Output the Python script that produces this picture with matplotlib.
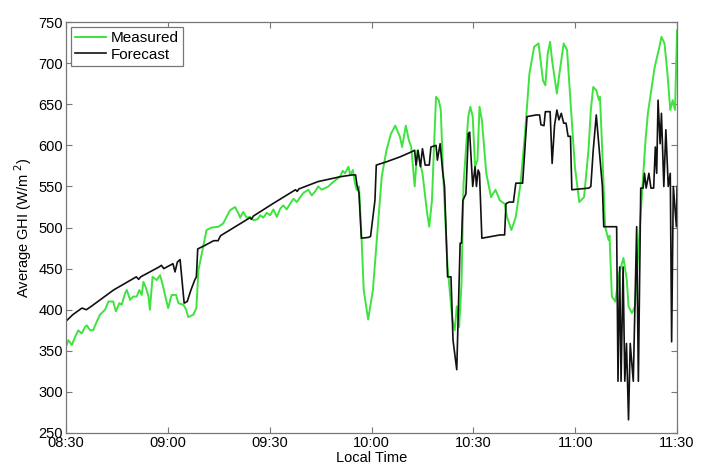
import numpy as np
import matplotlib
matplotlib.use("Agg")
import matplotlib.pyplot as plt

# minutes after 08:30 and GHI values
MEAS_T = [0, 0.7, 1.7, 2.7, 3.6, 4.6, 5.6, 6.1, 7.1, 8.0, 9.0, 10, 11.5, 12.5, 13.9, 14.7,
          15.7, 16.4, 17.4, 17.9, 18.9, 19.8, 20.8, 21.6, 22.3, 22.8, 23.6, 24.3, 24.7, 25.5,
          26.7, 27.7, 28.5, 29.5, 30.1, 31.1, 32.4, 33.1, 34.6, 35.4, 36, 37.5, 38.4,
          39, 41.4, 42.9, 44.9, 46.3, 48.3, 49.8, 50.8, 51.3, 52.2, 53.2, 54.2, 55.2, 56.4,
          57.2, 58.1, 59.1, 60.1, 61.1, 62.1, 63.1, 64, 65, 66, 67, 68, 69, 69.9, 71.4, 72.4,
          73.4, 74.3, 75.3, 76.3, 77.3, 78.3, 79.8, 80.7, 81.5, 82.2, 83.2, 83.7, 84.5, 85.1,
          85.6, 86.3,
          87, 87.7, 89, 90.4, 91.7, 93, 94.4, 95.7, 97, 98.4, 99, 100.1, 101, 101.7, 102.7,
          103.5, 105, 106.4, 107, 107.8, 108.4, 109, 109.8, 110.4, 111, 112.4, 113.8, 114.5,
          115.1, 115.8, 116.5, 117.1, 118.5, 119.1, 119.8, 120.5, 121.2, 121.8, 122.5, 123.8,
          125.2, 126.5, 127.8, 129.2, 129.9, 131.2, 132.5, 133.9, 135.2, 136.5, 137.9, 139.2,
          140.5, 141.2, 141.9, 142.6, 143.2, 144.6, 145.2, 146.6, 147.6, 148.6, 149.9, 151.2,
          152.6, 153.9, 154.6, 155.3, 156.2, 157, 157.3, 158, 158.8, 159.8, 160.1, 160.8,
          161.8, 163, 164.2, 165.2, 165.7, 166.7, 167.6, 169.1, 170.7, 171.4, 173.4, 174.7,
          175.4, 176.3, 177.1, 178, 178.7, 179.4, 180]
MEAS_V = [355, 363, 357, 367, 375, 371, 379, 381, 375, 375, 385, 394, 400, 410, 410, 398,
          408, 406, 420, 424, 412, 416, 416, 424, 418, 434, 426, 416, 400, 440,
          436, 442, 430, 412, 402, 418, 418, 408, 406, 400, 391, 394, 402,
          448, 497, 500, 501, 505, 521, 525, 517, 512, 519, 512, 513, 509, 510,
          515, 512, 518, 515, 522, 513, 523, 527, 522, 529, 535, 531, 537, 542, 546, 539,
          544, 550, 546, 548, 550, 554, 559, 562, 569, 566, 574, 564, 570, 554,
          546, 550,
          493, 424, 388, 424, 493, 562, 594, 614, 624, 610, 598, 624, 606, 598, 550,
          594, 566, 517, 501, 533, 598, 659, 655, 643, 574, 452, 388, 375,
          404, 379, 432, 554, 635, 647, 635, 574, 582, 647, 631, 566,
          537, 546, 533, 529, 513, 497, 513, 554, 614, 687, 720, 724,
          679, 673, 712, 726, 703, 663, 683, 724, 716, 655, 574, 531,
          537, 594, 643, 671, 667, 655, 659, 590, 501, 485, 490, 416,
          410, 445, 463, 436, 404, 396, 404, 505, 606, 639, 695, 718,
          732, 724, 691, 643, 655, 643, 740]

FCST_T = [0, 2, 4.7, 6, 7.4, 14, 20.7, 21.4, 22, 27.4, 28.1, 28.8, 31.5, 32.1, 32.8, 33.6,
          34.8, 35.7, 36.8, 37.9, 38.4, 38.8, 40.8, 43.5, 44.8, 45.5, 54.2, 54.6, 55.2, 60.9,
          67.6, 68.1, 68.6, 74.3, 81, 84.3, 85.3, 85.7, 86.3, 87, 89, 89.7, 90.4, 91, 91.4,
          94.4, 98.4, 101.7, 102.7,
          103.1, 103.7, 104.4, 105, 105.8, 107, 107.5, 109, 109.4, 110.2, 111, 111.5, 112.4,
          113.4, 114, 115.1, 115.8, 116.1, 116.5, 116.9, 117.8, 118.5, 118.9, 119.6, 119.8,
          120.5, 120.9, 121.4, 121.8, 122.5, 125.2, 127.8, 129.2, 129.6, 130.5, 131.8, 132.5,
          134.5, 135.8, 138.5, 139.5, 139.9, 140.8, 141.2, 142.6, 143.2, 143.9, 144.6, 145.2,
          145.9, 146.6, 147.3, 147.9, 148.6, 149, 154, 154.6, 155.3, 156.2, 157, 158, 158.4,
          161.3, 162.2, 162.6, 163.1, 163.5, 164.1, 164.6, 165.1, 165.7, 166.2, 167.1, 168.1,
          168.6, 169.3, 170, 170.4, 170.9, 171.7, 172.3, 173.1, 173.6, 174, 174.4, 175, 175.4,
          176.1, 176.7, 177.4, 178, 178.4, 178.9, 179.8, 180]
FCST_V = [386, 394, 402, 400, 404, 424, 440, 437, 440, 452, 454, 450, 456, 446, 458, 461,
          408, 410, 424, 436, 440, 474, 478, 484, 484, 490, 512, 510, 514, 529,
          546, 544, 547, 556, 562, 564, 564, 552, 542, 487, 488, 489, 513, 533, 576,
          580, 586, 592, 594,
          576, 594, 574, 596, 576, 576, 598, 600, 582, 602, 566, 550, 440,
          440, 363, 327, 436, 481, 481, 533, 541, 614, 616, 566, 550,
          574, 550, 570, 566, 487, 489, 491, 491, 529, 531, 531, 554,
          554, 635, 637, 637, 625, 624, 641, 641, 578, 624, 643, 631,
          639, 627, 627, 611, 611, 546, 548, 550, 594, 637, 598, 550, 501,
          501, 501, 313, 452, 313, 452, 313, 359, 266, 359, 313, 501,
          313, 548, 548, 566, 548, 566, 548, 548, 598, 566, 655, 602, 639,
          550, 619, 550, 566, 361, 550, 501, 550]

X_TICKS = [0, 30, 60, 90, 120, 150, 180]
X_LABELS = ["08:30", "09:00", "09:30", "10:00", "10:30", "11:00", "11:30"]
Y_TICKS = list(range(250, 751, 50))

plt.rcParams["font.family"] = ["Liberation Sans", "DejaVu Sans"]
plt.rcParams["font.size"] = 10.5

fig = plt.figure(figsize=(7.13, 4.68), dpi=100)
ax = fig.add_axes([0.0926, 0.0748, 0.857, 0.878])

ax.plot(MEAS_T, MEAS_V, color="#3ee33e", lw=1.4, label="Measured")
ax.plot(FCST_T, FCST_V, color="#111111", lw=1.2, label="Forecast")

ax.set_xlim(0, 180)
ax.set_ylim(250, 750)
ax.set_xticks(X_TICKS)
ax.set_xticklabels(X_LABELS)
ax.set_yticks(Y_TICKS)
ax.tick_params(direction="in", top=True, right=True, length=4, color="#777777", pad=2)
for s in ax.spines.values():
    s.set_color("#777777")
    s.set_linewidth(0.9)

ax.set_xlabel("Local Time", labelpad=1)
ax.set_ylabel(r"Average GHI (W/m $^{2}$)", labelpad=3)

leg = ax.legend(loc="upper left", fancybox=False, edgecolor="#777777", framealpha=1,
                fontsize=11, borderaxespad=0.3, handlelength=2.0, handletextpad=0.3,
                borderpad=0.3, labelspacing=0.15)
leg.get_frame().set_linewidth(0.9)

fig.savefig("out.png", dpi=100)
